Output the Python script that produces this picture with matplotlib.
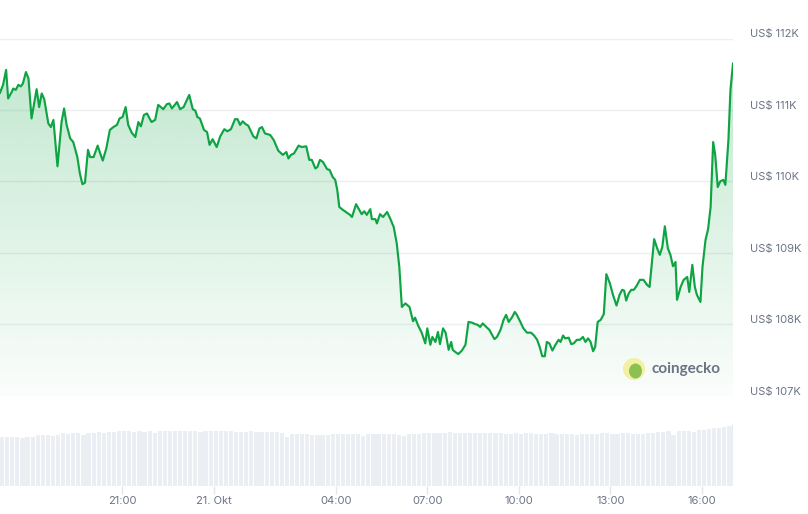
import matplotlib
matplotlib.use("Agg")
import matplotlib.pyplot as plt
import numpy as np
from matplotlib.patches import Polygon, Ellipse
from matplotlib.transforms import ScaledTranslation

# ---------------- data ----------------
# minutes after 20 Oct 17:00
times = [0,6,12,16,23,26,31,36,41,45,51,56,62,72,77,82,87,95,100,105,113,121,126,131,138,144,152,157,162,167,
         173,177,184,192,197,202,209,216,223,230,235,241,247,252,259,266,272,277,283,289,294,298,305,311,321,328,333,338,348,354,
         361,372,379,384,388,393,401,407,412,418,426,433,441,447,454,462,467,472,477,483,488,498,504,510,515,521,531,538,547,556,
         563,567,572,578,587,593,602,608,613,620,624,629,635,643,648,654,659,663,667,674,682,688,692,700,707,711,716,721,728,731,
         738,741,747,753,761,767,774,780,785,790,797,805,812,816,822,829,836,840,846,850,856,861,865,871,876,882,887,890,895,901,
         908,915,921,928,934,939,944,949,956,962,972,977,984,990,995,1000,1007,1012,1016,1023,1029,1036,1044,1050,1056,1061,1066,1071,1075,1080,
         1086,1092,1098,1102,1107,1111,1118,1123,1128,1134,1140,1146,1151,1156,1161,1166,1170,1175,1181,1187,1192,1199,1205,1212,1218,1223,1227,1231,1236,1241,
         1246,1251,1258,1265,1272,1277,1286,1292,1297,1302,1307,1313,1318,1323,1328,1331,1338,1344,1351,1355,1361,1366,1370,1377,1381,1387,1392,1397,1402,1406,
         1411,1416,1422,1426,1432,1436,1441]
# price in thousand USD
prices = [111.24,111.35,111.56,111.16,111.25,111.30,111.28,111.35,111.33,111.37,
          111.53,111.44,110.88,111.29,111.04,111.23,111.15,110.81,110.76,110.86,
          110.21,110.83,111.02,110.79,110.60,110.55,110.34,110.11,109.96,109.98,
          110.44,110.34,110.34,110.50,110.39,110.29,110.46,110.72,110.76,110.79,
          110.88,110.90,111.04,110.79,110.68,110.62,110.83,110.77,110.93,110.95,
          110.88,110.83,110.86,111.07,111.01,111.08,111.09,111.02,111.11,111.01,
          111.04,111.21,111.01,110.99,110.90,110.88,110.72,110.69,110.51,110.59,
          110.48,110.63,110.73,110.70,110.73,110.87,110.87,110.79,110.84,110.80,
          110.78,110.63,110.60,110.74,110.76,110.67,110.65,110.58,110.43,110.37,
          110.41,110.32,110.37,110.39,110.50,110.48,110.49,110.30,110.30,110.18,
          110.20,110.30,110.27,110.17,110.16,110.06,110.02,109.88,109.64,109.60,
          109.56,109.53,109.50,109.68,109.59,109.54,109.58,109.53,109.61,109.47,
          109.47,109.41,109.54,109.50,109.57,109.48,109.36,109.13,108.80,108.24,
          108.29,108.24,108.04,108.09,107.98,107.88,107.73,107.94,107.71,107.82,
          107.75,107.89,107.72,107.94,107.88,107.64,107.75,107.64,107.61,107.58,
          107.63,107.71,108.03,108.02,108.00,107.99,107.96,108.01,107.96,107.92,
          107.79,107.82,107.92,108.06,108.13,108.03,108.10,108.17,108.13,108.03,
          107.94,107.88,107.88,107.84,107.78,107.68,107.55,107.55,107.75,107.73,
          107.63,107.71,107.78,107.75,107.84,107.80,107.81,107.72,107.73,107.78,
          107.78,107.82,107.75,107.80,107.75,107.62,107.68,108.03,108.06,108.14,
          108.70,108.57,108.41,108.26,108.41,108.48,108.47,108.33,108.43,108.48,
          108.48,108.53,108.62,108.62,108.55,108.52,109.19,109.06,108.97,109.08,
          109.37,109.06,108.97,108.81,108.87,108.34,108.52,108.62,108.66,108.45,
          108.83,108.52,108.41,108.31,108.80,109.18,109.33,109.64,110.55,110.37,
          109.92,110.00,110.02,109.95,110.58,111.28,111.65]
assert len(times) == len(prices)

# 24h volume, one bar every 10 minutes (relative units)
volumes = [49.3,49.0,49.5,49.8,48.6,49.3,49.4,51.0,51.0,51.0,
           50.2,51.8,53.3,52.3,53.0,53.0,51.0,53.3,53.3,54.0,
           53.4,54.3,54.5,55.0,55.3,55.7,54.3,55.0,54.3,55.5,
           53.6,55.3,55.0,55.6,55.6,55.6,55.0,55.6,55.6,54.3,
           55.5,55.6,55.0,55.6,55.3,55.6,54.3,54.6,54.6,55.0,
           54.3,54.0,54.3,54.0,54.3,53.6,49.0,52.3,52.3,52.3,
           52.3,51.6,51.3,51.3,51.8,52.3,52.3,52.3,52.3,52.3,
           52.3,50.6,52.3,52.3,52.3,52.3,52.3,52.0,51.3,50.5,
           52.3,52.3,52.3,53.0,53.3,53.3,53.3,53.3,54.0,53.0,
           53.6,53.3,53.3,53.3,53.3,53.3,53.3,53.3,53.3,52.3,
           52.6,53.3,52.3,53.3,53.0,52.3,52.3,52.5,53.3,52.8,
           52.3,52.3,52.3,51.6,52.3,52.3,52.3,52.6,53.3,53.0,
           52.3,52.6,53.3,53.3,52.3,52.3,52.8,53.3,53.6,54.3,
           54.3,55.0,51.6,55.0,55.0,55.6,54.3,56.0,56.0,57.0,
           58.3,58.0,59.3,60.0,62.0]
vol_step = 10  # minutes per volume bar

y_ticks = [107, 108, 109, 110, 111, 112]
y_labels = ["US$ 107K", "US$ 108K", "US$ 109K", "US$ 110K", "US$ 111K", "US$ 112K"]
x_ticks = [240, 420, 660, 840, 1020, 1200, 1380]
x_labels = ["21:00", "21. Okt", "04:00", "07:00", "10:00", "13:00", "16:00"]

# ---------------- style ----------------
LINE = "#0ea443"
GRID = "#eceef1"
TXT = "#6b7385"
BAR = "#ebeff3"
FONT = ["Inter", "DejaVu Sans"]
plt.rcParams["font.family"] = FONT

W, H = 808, 514
fig = plt.figure(figsize=(W / 100, H / 100), dpi=100)
fig.patch.set_facecolor("white")

# price panel
ax = fig.add_axes([0, (H - 395.5) / H, 733 / W, 357 / H])
ax.set_xlim(0, times[-1])
ax.set_ylim(107, 112)
for s in ax.spines.values():
    s.set_visible(False)
ax.set_yticks(y_ticks)
ax.set_yticklabels(y_labels)
ax.yaxis.tick_right()
ax.tick_params(axis="y", length=0, pad=12.0, labelsize=8, labelcolor=TXT)
ax.set_xticks([])
ax.grid(axis="y", color=GRID, lw=1)
ax.set_axisbelow(True)
off = ScaledTranslation(0, 5 / 100, fig.dpi_scale_trans)
for lab in ax.get_yticklabels():
    lab.set_transform(lab.get_transform() + off)

# gradient fill under the line
verts = list(zip(times, prices)) + [(times[-1], 107), (times[0], 107)]
poly = Polygon(verts, closed=True, facecolor="none", edgecolor="none")
ax.add_patch(poly)
n = 256
grad = np.zeros((n, 1, 4))
rgb = matplotlib.colors.to_rgb(LINE)
grad[:, 0, 0] = rgb[0]
grad[:, 0, 1] = rgb[1]
grad[:, 0, 2] = rgb[2]
grad[:, 0, 3] = np.linspace(0.27, 0.02, n)
im = ax.imshow(grad, extent=[0, times[-1], 107, 112], aspect="auto", origin="upper",
               zorder=1, interpolation="bilinear")
im.set_clip_path(poly)
ax.plot(times, prices, color=LINE, lw=1.55, zorder=3, solid_joinstyle="round")

# volume panel
axv = fig.add_axes([0, (H - 486.3) / H, 733 / W, 68.3 / H])
axv.set_xlim(0, times[-1])
axv.set_ylim(0, 68.3)
vt = np.arange(len(volumes)) * vol_step
axv.bar(vt, volumes, width=vol_step * 0.82, align="edge", color=BAR, lw=0)
for k, s in axv.spines.items():
    s.set_visible(False)
axv.set_yticks([])
axv.set_xticks(x_ticks)
axv.set_xticklabels(x_labels)
axv.tick_params(axis="x", length=5.8, width=1, color="#e3e6ea", pad=1.5,
                labelsize=8, labelcolor=TXT)

# coingecko watermark
fig.patches.append(Ellipse((634 / W, 1 - 369 / H), 22 / W, 22 / H, transform=fig.transFigure,
                           facecolor="#f3efa3", edgecolor="none", zorder=5))
fig.patches.append(Ellipse((635.5 / W, 1 - 371 / H), 13 / W, 15 / H, transform=fig.transFigure,
                           facecolor="#8cc152", edgecolor="none", zorder=6))
fig.text(652 / W, 1 - 368.5 / H, "coingecko", fontsize=11, fontweight="bold", color="#6b7385",
         va="center", ha="left", family=["Lato", "DejaVu Sans"], zorder=7)

fig.savefig("out.png", dpi=100, facecolor="white")
